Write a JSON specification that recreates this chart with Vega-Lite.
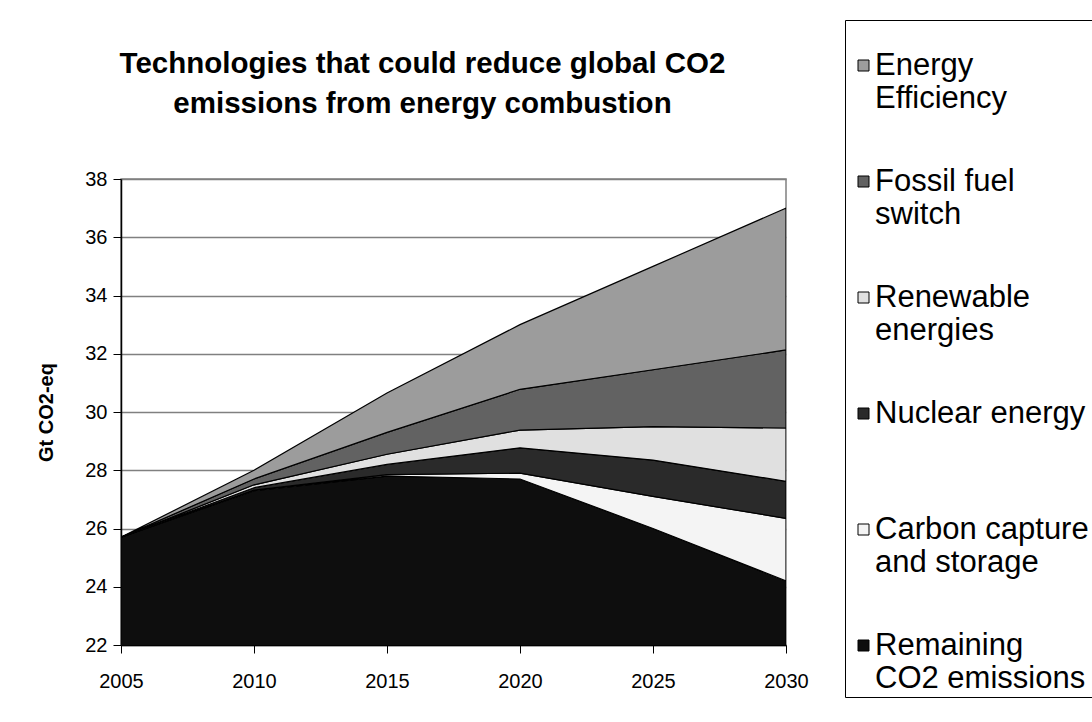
{
  "$schema": "https://vega.github.io/schema/vega-lite/v6.json",
  "autosize": "none",
  "width": 665,
  "height": 466,
  "padding": {"left": 121, "top": 179, "right": 306, "bottom": 77},
  "background": "white",
  "title": {
    "text": ["Technologies that could reduce global CO2", "emissions from energy combustion"],
    "font": "Liberation Sans",
    "fontSize": 29.5,
    "fontWeight": "bold",
    "color": "black",
    "anchor": "middle",
    "frame": "group",
    "dx": -31,
    "lineHeight": 40,
    "offset": -100
  },
  "config": {
    "view": {"stroke": "#808080", "strokeWidth": 1.5},
    "font": "Liberation Sans"
  },
  "data": {
    "values": [
      {"year": 2005, "tech": "Remaining CO2 emissions", "o": 1, "value": 25.7},
      {"year": 2010, "tech": "Remaining CO2 emissions", "o": 1, "value": 27.3},
      {"year": 2015, "tech": "Remaining CO2 emissions", "o": 1, "value": 27.8},
      {"year": 2020, "tech": "Remaining CO2 emissions", "o": 1, "value": 27.7},
      {"year": 2025, "tech": "Remaining CO2 emissions", "o": 1, "value": 26.0},
      {"year": 2030, "tech": "Remaining CO2 emissions", "o": 1, "value": 24.2},
      {"year": 2005, "tech": "Carbon capture and storage", "o": 2, "value": 0},
      {"year": 2010, "tech": "Carbon capture and storage", "o": 2, "value": 0.02},
      {"year": 2015, "tech": "Carbon capture and storage", "o": 2, "value": 0.05},
      {"year": 2020, "tech": "Carbon capture and storage", "o": 2, "value": 0.2},
      {"year": 2025, "tech": "Carbon capture and storage", "o": 2, "value": 1.1},
      {"year": 2030, "tech": "Carbon capture and storage", "o": 2, "value": 2.15},
      {"year": 2005, "tech": "Nuclear energy", "o": 3, "value": 0},
      {"year": 2010, "tech": "Nuclear energy", "o": 3, "value": 0.08},
      {"year": 2015, "tech": "Nuclear energy", "o": 3, "value": 0.35},
      {"year": 2020, "tech": "Nuclear energy", "o": 3, "value": 0.87},
      {"year": 2025, "tech": "Nuclear energy", "o": 3, "value": 1.25},
      {"year": 2030, "tech": "Nuclear energy", "o": 3, "value": 1.27},
      {"year": 2005, "tech": "Renewable energies", "o": 4, "value": 0},
      {"year": 2010, "tech": "Renewable energies", "o": 4, "value": 0.1},
      {"year": 2015, "tech": "Renewable energies", "o": 4, "value": 0.35},
      {"year": 2020, "tech": "Renewable energies", "o": 4, "value": 0.61},
      {"year": 2025, "tech": "Renewable energies", "o": 4, "value": 1.15},
      {"year": 2030, "tech": "Renewable energies", "o": 4, "value": 1.83},
      {"year": 2005, "tech": "Fossil fuel switch", "o": 5, "value": 0},
      {"year": 2010, "tech": "Fossil fuel switch", "o": 5, "value": 0.2},
      {"year": 2015, "tech": "Fossil fuel switch", "o": 5, "value": 0.75},
      {"year": 2020, "tech": "Fossil fuel switch", "o": 5, "value": 1.4},
      {"year": 2025, "tech": "Fossil fuel switch", "o": 5, "value": 1.95},
      {"year": 2030, "tech": "Fossil fuel switch", "o": 5, "value": 2.68},
      {"year": 2005, "tech": "Energy Efficiency", "o": 6, "value": 0},
      {"year": 2010, "tech": "Energy Efficiency", "o": 6, "value": 0.3},
      {"year": 2015, "tech": "Energy Efficiency", "o": 6, "value": 1.35},
      {"year": 2020, "tech": "Energy Efficiency", "o": 6, "value": 2.22},
      {"year": 2025, "tech": "Energy Efficiency", "o": 6, "value": 3.55},
      {"year": 2030, "tech": "Energy Efficiency", "o": 6, "value": 4.87}
    ]
  },
  "mark": {"type": "area", "clip": true, "stroke": "black", "strokeWidth": 1.2, "opacity": 1},
  "encoding": {
    "x": {
      "field": "year",
      "type": "quantitative",
      "scale": {"domain": [2005, 2030], "nice": false, "zero": false},
      "axis": {
        "title": null,
        "values": [2005, 2010, 2015, 2020, 2025, 2030],
        "format": "d",
        "grid": false,
        "domainColor": "black",
        "domainWidth": 1.5,
        "tickColor": "black",
        "tickSize": 8,
        "labelFontSize": 20,
        "labelFont": "Liberation Sans",
        "labelColor": "black",
        "labelPadding": 18,
        "labelFlush": false,
        "labelOverlap": false
      }
    },
    "y": {
      "field": "value",
      "type": "quantitative",
      "stack": "zero",
      "scale": {"domain": [22, 38], "nice": false, "zero": false},
      "axis": {
        "title": "Gt CO2-eq",
        "titleFont": "Liberation Sans",
        "titleFontSize": 20,
        "titleFontWeight": "bold",
        "titleColor": "black",
        "titlePadding": 28,
        "values": [22, 24, 26, 28, 30, 32, 34, 36, 38],
        "grid": true,
        "gridColor": "#808080",
        "gridWidth": 1.5,
        "domainColor": "black",
        "domainWidth": 1.5,
        "tickColor": "black",
        "tickSize": 8,
        "labelFontSize": 20,
        "labelFont": "Liberation Sans",
        "labelColor": "black",
        "labelPadding": 6
      }
    },
    "order": {"field": "o", "type": "quantitative"},
    "color": {
      "field": "tech",
      "type": "nominal",
      "scale": {
        "domain": ["Energy Efficiency", "Fossil fuel switch", "Renewable energies", "Nuclear energy", "Carbon capture and storage", "Remaining CO2 emissions"],
        "range": ["#9c9c9c", "#626262", "#e0e0e0", "#2a2a2a", "#f4f4f4", "#0e0e0e"]
      },
      "legend": {
        "title": " ",
        "titleFontSize": 8,
        "titlePadding": 19,
        "orient": "none",
        "legendX": 724,
        "legendY": -159,
        "strokeColor": "black",
        "fillColor": "white",
        "padding": 3,
        "symbolType": "square",
        "symbolSize": 121,
        "symbolStrokeColor": "black",
        "symbolStrokeWidth": 1,
        "symbolOpacity": 1,
        "labelFont": "Liberation Sans",
        "labelFontSize": 31,
        "labelColor": "black",
        "labelLimit": 0,
        "labelOffset": -4,
        "labelBaseline": "middle",
        "rowPadding": 51,
        "labelExpr": "datum.label == 'Energy Efficiency' ? ['Energy', 'Efficiency'] : datum.label == 'Fossil fuel switch' ? ['Fossil fuel', 'switch'] : datum.label == 'Renewable energies' ? ['Renewable', 'energies'] : datum.label == 'Nuclear energy' ? ['Nuclear energy', ' '] : datum.label == 'Carbon capture and storage' ? ['Carbon capture', 'and storage'] : ['Remaining', 'CO2 emissions']"
      }
    }
  }
}
